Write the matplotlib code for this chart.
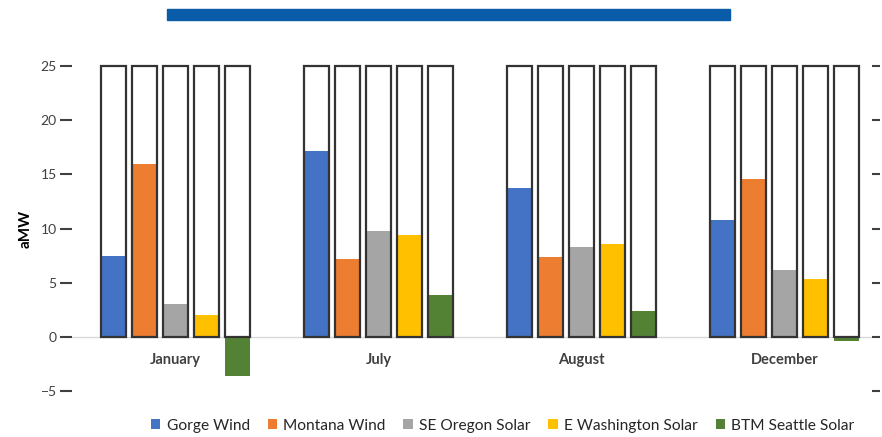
import matplotlib
matplotlib.use("Agg")
import matplotlib.pyplot as plt
import numpy as np
from matplotlib.patches import Rectangle

months = ["January", "July", "August", "December"]
series = ["Gorge Wind", "Montana Wind", "SE Oregon Solar", "E Washington Solar", "BTM Seattle Solar"]
gorge_wind = [7.5, 17.2, 13.7, 10.8]
montana_wind = [16.0, 7.2, 7.4, 14.6]
se_oregon_solar = [3.0, 9.8, 8.3, 6.2]
e_washington_solar = [2.0, 9.4, 8.6, 5.3]
btm_seattle_solar = [-3.6, 3.9, 2.4, -0.4]
capacity = 25  # outline bars
colors = ["#4472C4", "#ED7D31", "#A5A5A5", "#FFC000", "#548235"]

plt.rcParams["font.family"] = ["Lato", "DejaVu Sans"]

fig = plt.figure(figsize=(8.82, 4.37), dpi=100)
ax = fig.add_axes([72 / 882, 1 - 391 / 437, (872 - 72) / 882, 325 / 437])

x = np.arange(len(months))
step = 0.153
width = 0.122
values = [gorge_wind, montana_wind, se_oregon_solar, e_washington_solar, btm_seattle_solar]
handles = []
for i, (name, vals, c) in enumerate(zip(series, values, colors)):
    xs = x + (i - 2) * step
    h = ax.bar(xs, vals, width, color=c, label=name, zorder=2)
    handles.append(h)
    ax.bar(xs, [capacity] * len(xs), width, facecolor="none",
           edgecolor="#333333", linewidth=1.6, zorder=3, clip_on=False)

ax.axhline(0, color="#d9d9d9", lw=1, zorder=1)
for xi, m in zip(x, months):
    ax.text(xi, -1.45, m, ha="center", va="top", fontsize=10.5, fontweight="bold", color="#404040")

ax.set_xlim(-0.51, 3.43)
ax.set_ylim(-5, 25)
ax.set_yticks(range(-5, 26, 5))
ax.set_xticks([])
for s in ax.spines.values():
    s.set_visible(False)
ax.tick_params(axis="y", direction="out", length=9, width=1.5, color="#404040",
               labelsize=10, labelcolor="#404040", pad=2)
ax.set_ylabel("aMW", fontsize=11, fontweight="bold", labelpad=6)

ax2 = ax.twinx()
ax2.set_ylim(-5, 25)
ax2.set_yticks(range(-5, 26, 5))
ax2.set_yticklabels([])
for s in ax2.spines.values():
    s.set_visible(False)
ax2.tick_params(axis="y", direction="out", length=6, width=1.5, color="#404040")

# blue title banner
fig.patches.append(Rectangle((167 / 882, 1 - 20 / 437), (730 - 167) / 882, 11 / 437,
                             transform=fig.transFigure, color="#0B5CA8"))

leg = fig.legend(handles=handles, loc="lower center", bbox_to_anchor=(0.57, -0.022), ncol=5,
                 frameon=False, fontsize=11.2, handlelength=0.6, handleheight=0.6,
                 handletextpad=0.4, columnspacing=1.15)
for t in leg.get_texts():
    t.set_color("#262626")

fig.savefig("out.png", dpi=100)
